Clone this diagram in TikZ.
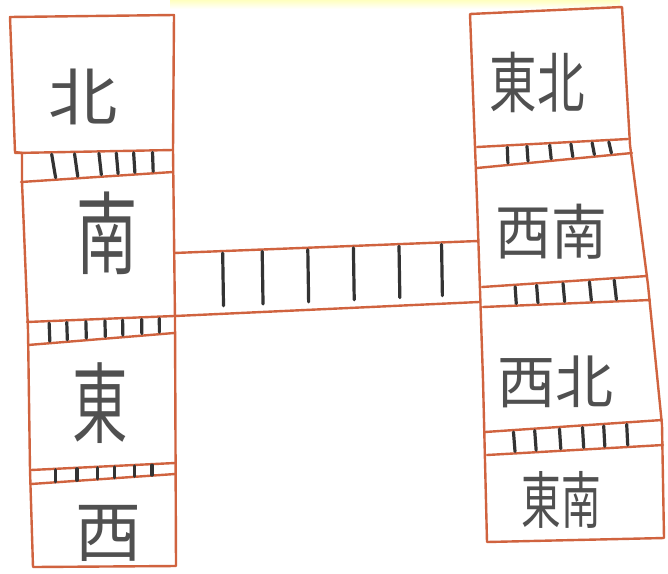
\documentclass[tikz,border=0pt]{standalone}
\usepackage{fontspec}
\newfontfamily\cjk{Noto Sans CJK JP}
\usetikzlibrary{calc}
\definecolor{pen}{HTML}{D0633F}
\definecolor{ink}{HTML}{333333}
\definecolor{txt}{HTML}{505050}
\begin{document}
\begin{tikzpicture}[x=1pt,y=-1pt,
  outline/.style={draw=pen, line width=2.4pt, line join=round, line cap=round},
  rung/.style={draw=ink, line width=3.2pt, line cap=round, shorten <=2pt, shorten >=2pt},
  bridgerung/.style={draw=ink, line width=3.2pt, line cap=round, shorten <=2pt, shorten >=8pt},
  lab/.style={text=txt, inner sep=0pt}]
\useasboundingbox (0,0) rectangle (668,573);
\fill[white] (0,0) rectangle (668,573);
\fill[top color=yellow!25, bottom color=white] (170,0) rectangle (620,9);

% ---------- left column ----------
\draw[outline] (10,17) -- (174,15) -- (173,150) -- (175,320) -- (176,566) -- (33,567)
  -- (30,470) -- (28,330) -- (22,182) -- (22,153) -- (15,152) -- cycle;
% dividers
\coordinate (l1a) at (15,153);  \coordinate (l1b) at (173,150);
\coordinate (l1c) at (21,182);  \coordinate (l1d) at (173,172);
\coordinate (l2a) at (27,322);  \coordinate (l2b) at (174,316);
\coordinate (l2c) at (28,345);  \coordinate (l2d) at (174,333);
\coordinate (l3a) at (31,470);  \coordinate (l3b) at (175,463);
\coordinate (l3c) at (31,484);  \coordinate (l3d) at (175,474);
\foreach \i in {1,2,3}{
  \draw[outline] (l\i a) -- (l\i b);
  \draw[outline] (l\i c) -- (l\i d);
}
\foreach \t in {0.23,0.375,0.53,0.64,0.75,0.87}
  \draw[rung] ($(l1a)!\t!(l1b)$) -- ($(l1c)!\t!(l1d)$);
\foreach \t in {0.15,0.27,0.40,0.53,0.65,0.78,0.90}
  \draw[rung] ($(l2a)!\t!(l2b)$) -- ($(l2c)!\t!(l2d)$);
\foreach \t in {0.17,0.32,0.46,0.58,0.72,0.84}
  \draw[rung, shorten <=1pt, shorten >=0.5pt] ($(l3a)!\t!(l3b)$) -- ($(l3c)!\t!(l3d)$);

% ---------- right column ----------
\draw[outline] (470,14) -- (622,7) -- (630,145) -- (648,285) -- (662,425) -- (664,538)
  -- (487,542) -- (483,380) -- (477,200) -- cycle;
\coordinate (r1a) at (477,147); \coordinate (r1b) at (628,139);
\coordinate (r1c) at (477,168); \coordinate (r1d) at (632,153);
\coordinate (r2a) at (482,287); \coordinate (r2b) at (647,276);
\coordinate (r2c) at (483,307); \coordinate (r2d) at (650,300);
\coordinate (r3a) at (485,432); \coordinate (r3b) at (662,420);
\coordinate (r3c) at (487,455); \coordinate (r3d) at (663,445);
\foreach \i in {1,2,3}{
  \draw[outline] (r\i a) -- (r\i b);
  \draw[outline] (r\i c) -- (r\i d);
}
\foreach \t in {0.20,0.33,0.48,0.62,0.76,0.87}
  \draw[rung] ($(r1a)!\t!(r1b)$) -- ($(r1c)!\t!(r1d)$);
\foreach \t in {0.20,0.33,0.49,0.65,0.80}
  \draw[rung] ($(r2a)!\t!(r2b)$) -- ($(r2c)!\t!(r2d)$);
\foreach \t in {0.16,0.28,0.42,0.55,0.67,0.80}
  \draw[rung] ($(r3a)!\t!(r3b)$) -- ($(r3c)!\t!(r3d)$);

% ---------- bridge ----------
\coordinate (ba) at (174,253); \coordinate (bb) at (478,241);
\coordinate (bc) at (175,316); \coordinate (bd) at (479,302);
\draw[outline] (ba) -- (bb);
\draw[outline] (bc) -- (bd);
\foreach \t in {0.16,0.29,0.44,0.59,0.74,0.88}
  \draw[bridgerung] ($(ba)!\t!(bb)$) -- ($(bc)!\t!(bd)$);

% ---------- labels ----------
\node[lab] (kita)   at (83,97)   {\cjk\fontsize{66}{66}\selectfont\scalebox{1.05}[0.95]{北}};
\node[lab] (minami) at (107,233) {\cjk\fontsize{90}{90}\selectfont\scalebox{0.68}[1]{南}};
\node[lab] (higashi) at (100,403){\cjk\fontsize{88}{88}\selectfont\scalebox{0.63}[1]{東}};
\node[lab] (nishi)  at (108,533) {\cjk\fontsize{66}{66}\selectfont 西};
\node[lab] (tohoku) at (537,82)  {\cjk\fontsize{66}{66}\selectfont\scalebox{0.72}[1]{東北}};
\node[lab] (seinan) at (551,232) {\cjk\fontsize{60}{60}\selectfont\scalebox{0.93}[1]{西南}};
\node[lab] (seihoku) at (555,382){\cjk\fontsize{58}{58}\selectfont 西北};
\node[lab] (tonan)  at (561,500) {\cjk\fontsize{62}{62}\selectfont\scalebox{0.64}[1]{東南}};
\end{tikzpicture}
\end{document}
